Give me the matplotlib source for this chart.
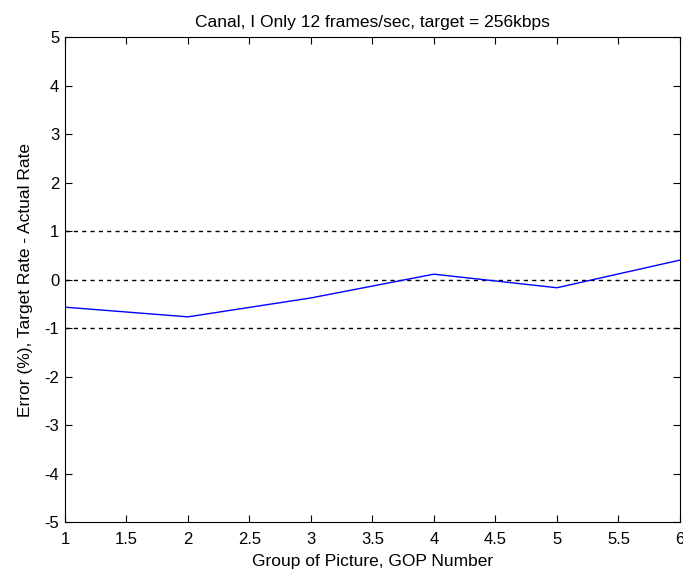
import matplotlib
matplotlib.use("Agg")
import matplotlib.pyplot as plt

# --- Data ---
gop = [1, 2, 3, 4, 5, 6]
error_pct = [-0.57, -0.77, -0.38, 0.11, -0.17, 0.40]
ref_levels = [-1, 0, 1]

plt.rcParams['font.family'] = ['Liberation Sans', 'DejaVu Sans']
plt.rcParams['axes.unicode_minus'] = False

fig = plt.figure(figsize=(6.83, 5.73), dpi=100)
ax = fig.add_axes([0.095, 0.089, 0.9005, 0.8464])

for lvl in ref_levels:
    ax.axhline(lvl, color='black', linestyle=(0, (3, 3)), linewidth=1)

ax.plot(gop, error_pct, color='blue', linewidth=1)

ax.set_xlim(1, 6)
ax.set_ylim(-5, 5)
ax.set_xticks([1, 1.5, 2, 2.5, 3, 3.5, 4, 4.5, 5, 5.5, 6])
ax.set_xticklabels(['1', '1.5', '2', '2.5', '3', '3.5', '4', '4.5', '5', '5.5', '6'])
ax.set_yticks(range(-5, 6))
ax.tick_params(direction='in', top=True, right=True, labelsize=12, length=5, pad=4)
ax.tick_params(axis='x', pad=7)

ax.set_title("Canal, I Only 12 frames/sec, target = 256kbps", fontsize=12.5, pad=7)
ax.set_xlabel("Group of Picture, GOP Number", fontsize=12.5, labelpad=5)
ax.set_ylabel("Error (%), Target Rate - Actual Rate", fontsize=12.5, labelpad=8)

fig.savefig("out.png", dpi=100)
